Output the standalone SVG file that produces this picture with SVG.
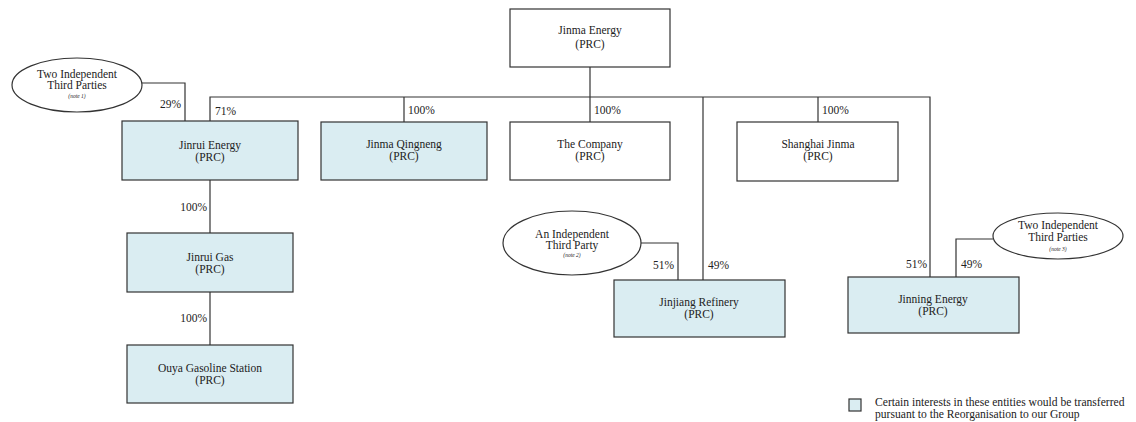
<svg xmlns="http://www.w3.org/2000/svg" width="1136" height="422" viewBox="0 0 1136 422">
<style>
.box{stroke:#333;stroke-width:1.2;fill:#fff}
.blue{fill:#daedf2}
.ell{stroke:#333;stroke-width:1.2;fill:#fff}
.ln{stroke:#333;stroke-width:1.2;fill:none}
text{font-family:"Liberation Serif","Times New Roman",serif;fill:#222}
.t{font-size:11.5px;text-anchor:middle}
.p{font-size:11.5px}
.r{text-anchor:end}
.n{font-size:5.5px;font-style:italic;text-anchor:middle}
.lg{font-size:11.6px}
</style>
<rect width="1136" height="422" fill="#fff"/>
<g id="connectors">
<polyline class="ln" points="590,67 590,122"/>
<polyline class="ln" points="210,121 210,97 930,97 930,277"/>
<polyline class="ln" points="404,97 404,122"/>
<polyline class="ln" points="818,97 818,122"/>
<polyline class="ln" points="703,97 703,280"/>
<polyline class="ln" points="142,83 185,83 185,121"/>
<polyline class="ln" points="210,180 210,233"/>
<polyline class="ln" points="210,292 210,345"/>
<polyline class="ln" points="641,243 678,243 678,280"/>
<polyline class="ln" points="993,239 956,239 956,277"/>
<text class="p r" x="181" y="108">29%</text>
<text class="p" x="215" y="115">71%</text>
<text class="p" x="408" y="114">100%</text>
<text class="p" x="594" y="114">100%</text>
<text class="p" x="822" y="114">100%</text>
<text class="p r" x="207" y="211">100%</text>
<text class="p r" x="207" y="322">100%</text>
<text class="p r" x="674" y="269">51%</text>
<text class="p" x="708" y="269">49%</text>
<text class="p r" x="927" y="268">51%</text>
<text class="p" x="961" y="268">49%</text>
</g>
<g id="jinma-energy">
<rect class="box" x="510" y="9" width="160" height="58"/>
<text class="t" x="590" y="34">Jinma Energy</text>
<text class="t" x="590" y="48">(PRC)</text>
</g>
<g id="third-parties-1">
<ellipse class="ell" cx="77" cy="85" rx="65" ry="27"/>
<text class="t" x="77" y="78">Two Independent</text>
<text class="t" x="77" y="89">Third Parties</text>
<text class="n" x="77" y="98">(note 1)</text>
</g>
<g id="jinrui-energy">
<rect class="box blue" x="122" y="121" width="176" height="59"/>
<text class="t" x="210" y="149">Jinrui Energy</text>
<text class="t" x="210" y="161">(PRC)</text>
</g>
<g id="jinma-qingneng">
<rect class="box blue" x="321" y="122" width="166" height="58"/>
<text class="t" x="404" y="148">Jinma Qingneng</text>
<text class="t" x="404" y="160">(PRC)</text>
</g>
<g id="the-company">
<rect class="box" x="510" y="122" width="160" height="58"/>
<text class="t" x="590" y="148">The Company</text>
<text class="t" x="590" y="160">(PRC)</text>
</g>
<g id="shanghai-jinma">
<rect class="box" x="737" y="122" width="161" height="59"/>
<text class="t" x="818" y="148">Shanghai Jinma</text>
<text class="t" x="818" y="160">(PRC)</text>
</g>
<g id="jinrui-gas">
<rect class="box blue" x="127" y="233" width="166" height="59"/>
<text class="t" x="210" y="261">Jinrui Gas</text>
<text class="t" x="210" y="273">(PRC)</text>
</g>
<g id="ouya">
<rect class="box blue" x="127" y="345" width="166" height="58"/>
<text class="t" x="210" y="372">Ouya Gasoline Station</text>
<text class="t" x="210" y="384">(PRC)</text>
</g>
<g id="third-party-2">
<ellipse class="ell" cx="572" cy="243" rx="69" ry="32"/>
<text class="t" x="572" y="238">An Independent</text>
<text class="t" x="572" y="249">Third Party</text>
<text class="n" x="572" y="257">(note 2)</text>
</g>
<g id="jinjiang-refinery">
<rect class="box blue" x="614" y="280" width="171" height="57"/>
<text class="t" x="699" y="306">Jinjiang Refinery</text>
<text class="t" x="699" y="318">(PRC)</text>
</g>
<g id="third-parties-3">
<ellipse class="ell" cx="1058" cy="236" rx="65" ry="23"/>
<text class="t" x="1058" y="229">Two Independent</text>
<text class="t" x="1058" y="241">Third Parties</text>
<text class="n" x="1058" y="251">(note 3)</text>
</g>
<g id="jinning-energy">
<rect class="box blue" x="848" y="277" width="171" height="56"/>
<text class="t" x="933" y="303">Jinning Energy</text>
<text class="t" x="933" y="315">(PRC)</text>
</g>
<g id="legend">
<rect class="box blue" x="849" y="399" width="12" height="12"/>
<text class="lg" x="875" y="406">Certain interests in these entities would be transferred</text>
<text class="lg" x="875" y="417.5">pursuant to the Reorganisation to our Group</text>
</g>
</svg>
